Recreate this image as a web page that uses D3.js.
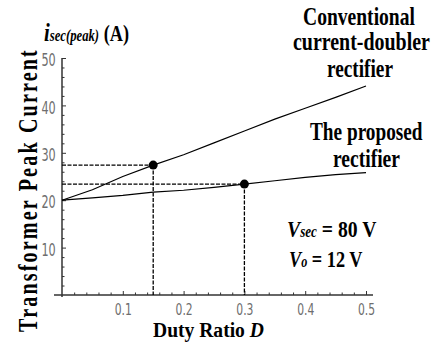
<!DOCTYPE html>
<html>
<head>
<meta charset="utf-8">
<script src="https://cdn.jsdelivr.net/npm/d3@7"></script>
<style>
  body { margin: 0; background: #fff; }
  svg { display: block; }
</style>
</head>
<body>
<div id="chart"></div>
<script>
// duty ratio samples and the two peak-current curves
const dutyRatio = [0, 0.05, 0.1, 0.15, 0.2, 0.25, 0.3, 0.35, 0.4, 0.45, 0.5];
const conventional = [20, 22.2, 25.0, 27.4, 29.6, 32.1, 34.6, 37.1, 39.4, 41.7, 44.1];
const proposed = [20, 20.5, 21.0, 21.7, 22.1, 22.7, 23.4, 24.1, 24.8, 25.4, 25.8];
// operating points marked on each curve (index into dutyRatio)
const markConventional = 3;
const markProposed = 6;
const xTicks = [0.1, 0.2, 0.3, 0.4, 0.5];
const yTicks = [10, 20, 30, 40, 50];

const W = 437, H = 343;
const serif = '"Liberation Serif", "DejaVu Serif", "Times New Roman", serif';

const svg = d3.select('#chart').append('svg')
  .attr('width', W).attr('height', H);

const x = d3.scaleLinear().domain([0, 0.5]).range([62, 366]);
const y = d3.scaleLinear().domain([0, 50]).range([295, 58]);

// minor ticks
const xMinor = d3.range(0.02, 0.5001, 0.02).filter(v => Math.abs(v * 10 - Math.round(v * 10)) > 1e-6);
const yMinor = d3.range(2, 50, 2).filter(v => v % 10 !== 0);

svg.append('g')
  .attr('transform', `translate(0,${y(0)})`)
  .call(d3.axisBottom(x).tickValues(xMinor).tickSize(-2.5).tickSizeOuter(0).tickFormat(''))
  .call(g => g.select('.domain').remove())
  .call(g => g.selectAll('line').attr('stroke', '#333'));

svg.append('g')
  .attr('transform', `translate(${x(0)},0)`)
  .call(d3.axisLeft(y).tickValues(yMinor).tickSize(-2.5).tickSizeOuter(0).tickFormat(''))
  .call(g => g.select('.domain').remove())
  .call(g => g.selectAll('line').attr('stroke', '#333'));

// major ticks with labels
svg.append('g')
  .attr('transform', `translate(0,${y(0)})`)
  .call(d3.axisBottom(x).tickValues(xTicks).tickSize(-4).tickSizeOuter(0).tickPadding(9).tickFormat(d3.format('.1f')))
  .call(g => g.select('.domain').remove())
  .call(g => g.selectAll('line').attr('stroke', '#333'))
  .call(g => g.selectAll('text')
    .attr('fill', '#6e6e6e')
    .attr('font-family', '"DejaVu Sans", sans-serif')
    .attr('font-size', 15)
    .attr('transform', 'scale(0.72,1)'));

svg.append('g')
  .attr('transform', `translate(${x(0)},0)`)
  .call(d3.axisLeft(y).tickValues(yTicks).tickSize(-4).tickSizeOuter(0).tickPadding(9.5).tickFormat(d3.format('d')))
  .call(g => g.select('.domain').remove())
  .call(g => g.selectAll('line').attr('stroke', '#333'))
  .call(g => g.selectAll('text')
    .attr('fill', '#6e6e6e')
    .attr('font-family', '"DejaVu Sans", sans-serif')
    .attr('font-size', 17)
    .attr('dy', '0.45em')
    .attr('transform', 'scale(0.66,1)'));

// axis lines
svg.append('line')
  .attr('x1', 54).attr('x2', 373).attr('y1', y(0)).attr('y2', y(0))
  .attr('stroke', '#333').attr('stroke-width', 1.5);
svg.append('line')
  .attr('x1', x(0)).attr('x2', x(0)).attr('y1', y(50)).attr('y2', y(0) + 2)
  .attr('stroke', '#333').attr('stroke-width', 1.5);

// dashed guides to the marked points
const marks = [
  { d: dutyRatio[markConventional], v: conventional[markConventional] },
  { d: dutyRatio[markProposed], v: proposed[markProposed] }
];
marks.forEach(m => {
  svg.append('line')
    .attr('x1', x(0)).attr('x2', x(m.d)).attr('y1', y(m.v)).attr('y2', y(m.v))
    .attr('stroke', '#000').attr('stroke-width', 1.3).attr('stroke-dasharray', '4,1.5');
  svg.append('line')
    .attr('x1', x(m.d)).attr('x2', x(m.d)).attr('y1', y(m.v)).attr('y2', y(0))
    .attr('stroke', '#000').attr('stroke-width', 1.3).attr('stroke-dasharray', '4,1.5');
});

// curves
const line = d3.line().x((d, i) => x(dutyRatio[i])).y(d => y(d));
[conventional, proposed].forEach(s => {
  svg.append('path').datum(s)
    .attr('d', line)
    .attr('fill', 'none').attr('stroke', '#000').attr('stroke-width', 1.2);
});

svg.selectAll('circle.mark').data(marks).enter().append('circle')
  .attr('class', 'mark')
  .attr('cx', d => x(d.d)).attr('cy', d => y(d.v)).attr('r', 4.5)
  .attr('fill', '#000');

// text helper: squeeze a text to a given width, left edge at left
function fitText(parts, left, base, width, size) {
  const t = svg.append('text')
    .attr('font-family', serif).attr('font-weight', 'bold')
    .attr('font-size', size).attr('fill', '#000');
  parts.forEach(p => {
    const ts = t.append('tspan').text(p.text);
    if (p.italic) ts.attr('font-style', 'italic');
    if (p.size) ts.attr('font-size', p.size);
  });
  const bw = t.node().getBBox().width;
  t.attr('transform', `translate(${left},${base}) scale(${width / bw},1)`);
  return t;
}

fitText([{ text: 'Conventional' }], 303, 25, 112, 26);
fitText([{ text: 'current-doubler' }], 293, 50, 137, 26);
fitText([{ text: 'rectifier' }], 327, 77, 66, 26);
fitText([{ text: 'The proposed' }], 310, 140, 113, 26);
fitText([{ text: 'rectifier' }], 333, 167, 67, 26);

fitText([{ text: 'Duty Ratio ' }, { text: 'D', italic: true }], 153, 337, 111, 21);

fitText([{ text: 'i', italic: true, size: 26 }, { text: 'sec(peak)', italic: true, size: 16 }, { text: ' (A)' }], 44, 41, 85, 23);

fitText([{ text: 'V', italic: true }, { text: 'sec', italic: true, size: 16 }, { text: ' = 80 V' }], 287, 237, 90, 24);
fitText([{ text: 'V', italic: true }, { text: 'o', italic: true, size: 16 }, { text: ' = 12 V' }], 289, 267, 74, 24);

// rotated y-axis title
const yt = svg.append('text')
  .attr('font-family', serif).attr('font-weight', 'bold')
  .attr('font-size', 28).attr('letter-spacing', 3)
  .attr('text-anchor', 'middle')
  .text('Transformer Peak Current');
const ybw = yt.node().getBBox().width;
yt.attr('transform', `translate(37,190) rotate(-90) scale(${284 / ybw},1)`);
</script>
</body>
</html>
